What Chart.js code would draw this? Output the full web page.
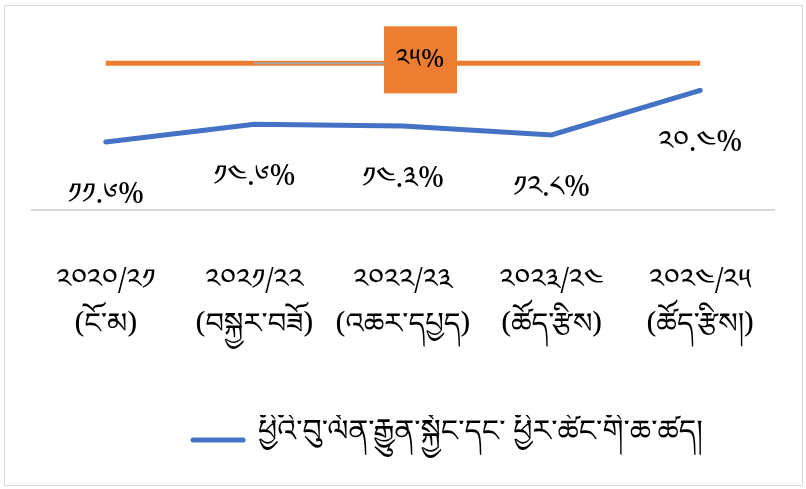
<!DOCTYPE html>
<html><head><meta charset="utf-8">
<script src="https://cdn.jsdelivr.net/npm/chart.js@4"></script>
<style>
html,body{margin:0;padding:0;background:#fff;}
#frame{position:absolute;left:4px;top:5px;width:799px;height:481px;border:1px solid #d9d9d9;box-sizing:border-box;}
#c{position:absolute;left:0;top:0;}
</style></head><body>
<div id="frame"></div>
<canvas id="c" width="806" height="489"></canvas>
<script>
const categories = ['༢༠༢༠/༢༡','༢༠༢༡/༢༢','༢༠༢༢/༢༣','༢༠༢༣/༢༤','༢༠༢༤/༢༥'];
const categoryNotes = ['(ངོ་མ)','(བསྐྱར་བཟོ)','(འཆར་དཔྱད)','(ཚོད་རྩིས)','(ཚོད་རྩིས།)'];
const ratioValues = [11.6, 14.6, 14.3, 12.8, 20.4];
const thresholdValues = [25, 25, 25, 25, 25];
const leaderValues = [null, 25, 25, null, null];
const thresholdLabel = '༢༥%';
const seriesName = 'ཕྱིའི་བུ་ལོན་རྒྱུན་སྐྱོང་དང་ ཕྱིར་ཚོང་གི་ཆ་ཚད།';

const TIB = '"Microsoft Himalaya","Noto Serif Tibetan","Noto Sans Tibetan","Jomolhari","Tibetan Machine Uni","DejaVu Sans",sans-serif';
const tibDigits = '༠༡༢༣༤༥༦༧༨༩';
function toTib(s){ return s.replace(/[0-9]/g, d => tibDigits[+d]); }

const labelsPlugin = {
  id: 'lbls',
  afterLayout(chart){
    const lg = chart.legend;
    if (lg) { lg.left += 45; lg.right += 45; }
  },
  afterDatasetsDraw(chart){
    const ctx = chart.ctx;
    const meta = chart.getDatasetMeta(0);
    ctx.save();
    ctx.font = '29px ' + TIB;
    ctx.fillStyle = '#000';
    ctx.textAlign = 'center';
    ctx.textBaseline = 'middle';
    meta.data.forEach((p, i) => {
      ctx.fillText(toTib(ratioValues[i].toFixed(1)) + '%', p.x, p.y + 60);
    });
    const xs = chart.scales.x, ys = chart.scales.y;
    const bx = xs.getPixelForValue(2) + 17;
    const by = ys.getPixelForValue(thresholdValues[2]);
    ctx.fillStyle = '#ED7D31';
    ctx.fillRect(bx - 36, by - 37, 73, 67);
    ctx.fillStyle = '#000';
    ctx.font = '26px ' + TIB;
    ctx.fillText(thresholdLabel, bx, by + 3.5);
    ctx.restore();
  }
};

new Chart(document.getElementById('c'), {
  type: 'line',
  data: {
    labels: categories.map((c, i) => [c, categoryNotes[i]]),
    datasets: [
      { label: seriesName, data: ratioValues, borderColor: '#4472C4', backgroundColor: '#4472C4',
        borderWidth: 5, pointRadius: 0, tension: 0, borderCapStyle: 'round', order: 0 },
      { label: 'leader', data: leaderValues, borderColor: '#A5A5A5', borderWidth: 2,
        pointRadius: 0, order: 1 },
      { label: 'threshold', data: thresholdValues, borderColor: '#ED7D31', borderWidth: 5,
        pointRadius: 0, order: 2 }
    ]
  },
  options: {
    responsive: false,
    animation: false,
    layout: { padding: { left: 31.5, right: 31.5, top: 34, bottom: 24 } },
    scales: {
      y: { display: false, min: 0, max: 30 },
      x: {
        offset: true,
        grid: { display: false, drawTicks: false },
        border: { display: true, color: '#d9d9d9', width: 2 },
        ticks: { color: '#000', font: { family: TIB, size: 29, lineHeight: 1.52 }, padding: 56, maxRotation: 0, autoSkip: false },
        afterFit(scale){ scale.height = 205; scale.paddingLeft = 0; scale.paddingRight = 0; }
      }
    },
    plugins: {
      tooltip: { enabled: false },
      legend: {
        position: 'bottom',
        labels: {
          color: '#000',
          font: { family: TIB, size: 30 },
          usePointStyle: true,
          pointStyleWidth: 50,
          boxWidth: 50,
          boxHeight: 5,
          padding: 10,
          generateLabels: () => [{
            text: seriesName, fillStyle: '#4472C4', strokeStyle: '#4472C4',
            lineWidth: 5, lineCap: 'round', pointStyle: 'line', datasetIndex: 0, hidden: false
          }]
        }
      }
    }
  },
  plugins: [labelsPlugin]
});
</script>
</body></html>
